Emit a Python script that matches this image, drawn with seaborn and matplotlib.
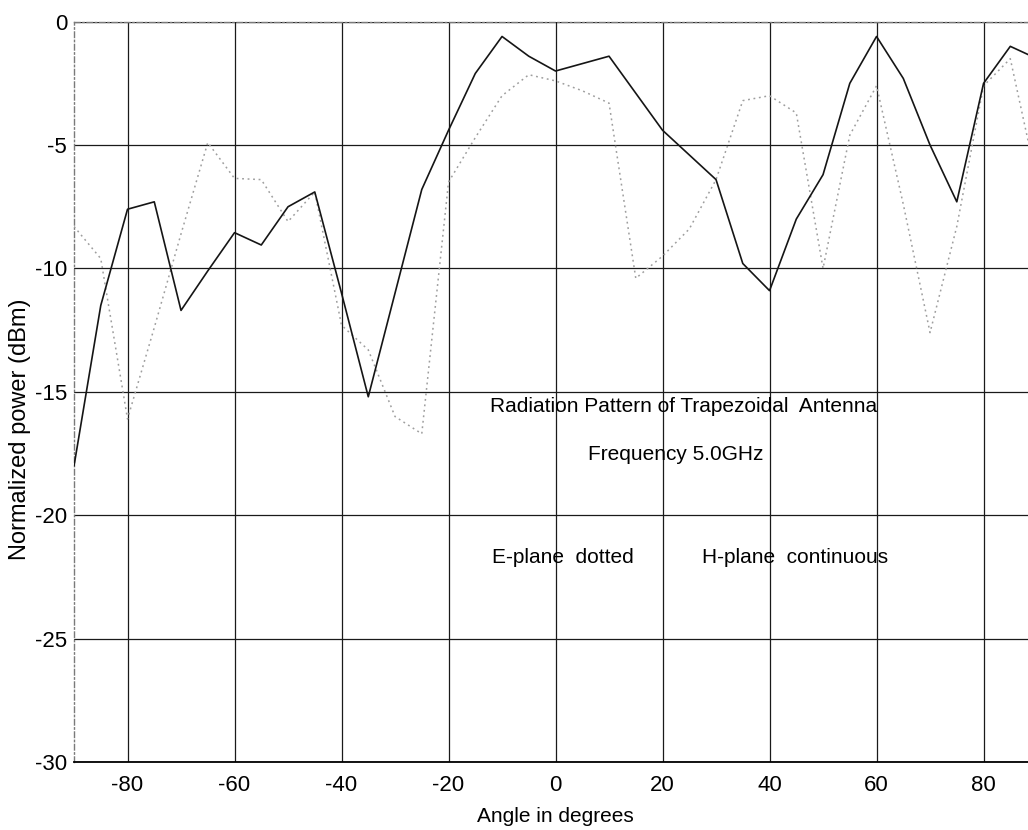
import matplotlib
matplotlib.use("Agg")
import matplotlib.pyplot as plt
import seaborn as sns
import pandas as pd

angles = [-90, -85, -80, -75, -70, -65, -60, -55, -50, -45, -40, -35, -30,
          -25, -20, -15, -10, -5, 0, 5, 10, 15, 20, 25, 30, 35, 40, 45, 50,
          55, 60, 65, 70, 75, 80, 85, 90]

h_plane = [-18.0, -11.5, -7.6, -7.3, -11.7, -10.1, -8.55, -9.05, -7.5, -6.9,
           -11.0, -15.2, -11.0, -6.8, -4.4, -2.1, -0.6, -1.4, -2.0, -1.7,
           -1.4, -2.9, -4.4, -5.4, -6.4, -9.8, -10.9, -8.0, -6.2, -2.5,
           -0.6, -2.3, -5.0, -7.3, -2.5, -1.0, -1.5]

e_plane = [-8.3, -9.6, -16.1, -12.4, -8.6, -4.9, -6.35, -6.4, -8.1, -6.9,
           -12.3, -13.3, -16.0, -16.7, -6.5, -4.7, -3.0, -2.15, -2.4, -2.8,
           -3.3, -10.4, -9.5, -8.4, -6.4, -3.2, -3.0, -3.7, -10.0, -4.6,
           -2.6, -7.4, -12.6, -8.3, -2.6, -1.5, -6.5]

x_ticks = [-80, -60, -40, -20, 0, 20, 40, 60, 80]
y_ticks = [0, -5, -10, -15, -20, -25, -30]

annotations = [
    ("Radiation Pattern of Trapezoidal  Antenna", -12.2, -15.6),
    ("Frequency 5.0GHz", 6.1, -17.55),
    ("E-plane  dotted", -11.9, -21.7),
    ("H-plane  continuous", 27.4, -21.7),
]

sns.set_theme(style="white")
plt.rcParams["font.family"] = ["Liberation Sans", "DejaVu Sans"]
plt.rcParams["axes.unicode_minus"] = False

fig = plt.figure(figsize=(10.28, 8.30), dpi=100)
ax = fig.add_axes([0.072, 0.0819, 0.9368, 0.892])

df = pd.DataFrame({"angle": angles, "H": h_plane, "E": e_plane})

ax.set_xlim(-90, 90)
ax.set_ylim(-30, 0)
ax.set_xticks(x_ticks)
ax.set_yticks(y_ticks)
ax.grid(True, color="#1a1a1a", linewidth=0.9, linestyle="-")
ax.set_axisbelow(True)

sns.lineplot(data=df, x="angle", y="E", ax=ax, color="#9e9e9e",
             linewidth=1.1, linestyle=(0, (1.2, 2.4)), zorder=3)
sns.lineplot(data=df, x="angle", y="H", ax=ax, color="#151515",
             linewidth=1.2, linestyle="-", zorder=4)

for txt, xx, yy in annotations:
    ax.text(xx, yy, txt, ha="left", va="center", fontsize=15, color="black")

ax.set_xlabel("Angle in degrees", fontsize=15, labelpad=8, color="black")
ax.set_ylabel("Normalized power (dBm)", fontsize=17, color="black")
ax.yaxis.set_label_coords(-0.0445, 0.45)
ax.tick_params(axis="both", length=0, labelsize=16, colors="black")
ax.tick_params(axis="x", pad=9)
ax.tick_params(axis="y", pad=5)

for side in ["top", "left"]:
    ax.spines[side].set_color("#7a7a7a")
    ax.spines[side].set_linewidth(1.0)
    ax.spines[side].set_linestyle((0, (4, 2, 1, 2)))
ax.spines["bottom"].set_color("black")
ax.spines["bottom"].set_linewidth(1.3)
ax.spines["right"].set_visible(False)

fig.savefig("out.png", dpi=100, facecolor="white")
